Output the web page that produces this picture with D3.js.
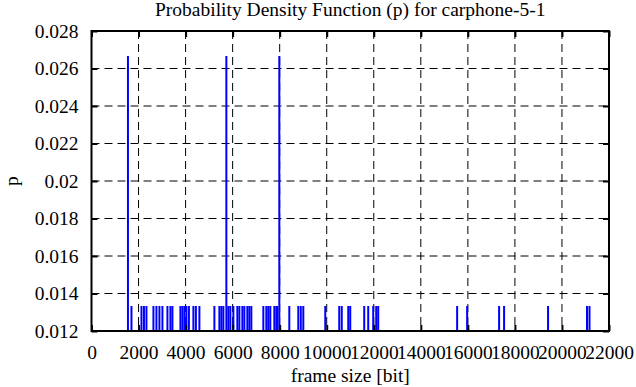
<!DOCTYPE html>
<html>
<head>
<meta charset="utf-8">
<script src="https://cdn.jsdelivr.net/npm/d3@7"></script>
<style>
  body { margin: 0; background: #fff; }
  text { font-family: "Liberation Serif", "Times New Roman", serif; }
</style>
</head>
<body>
<div class="chart"></div>
<script>
// frame sizes [bit] that occur once (p = 1/75) and twice (p = 2/75)
const onceSizes = [
  1699, 2124, 2230, 2336, 2633, 2760, 2888, 3015, 3228, 3355, 3440,
  3780, 3865, 3950, 4035, 4141, 4332, 4438, 4587, 5224, 5436, 5521,
  5606, 5818, 5903, 6031, 6200, 6286, 6413, 6498, 6625, 6710, 6795,
  7305, 7432, 7517, 7602, 7772, 7857, 7899, 8409, 8791, 8897, 9004,
  9938, 10532, 10639, 10915, 11000, 11594, 11764, 11976, 12104, 12189,
  15544, 15969, 17328, 17540, 19409, 21065, 21171
];
const twiceSizes = [1550, 5733, 7984];
const pOnce = 1 / 75;
const pTwice = 2 / 75;

const xTicks = [0, 2000, 4000, 6000, 8000, 10000, 12000, 14000, 16000, 18000, 20000, 22000];
const yTicks = [0.012, 0.014, 0.016, 0.018, 0.02, 0.022, 0.024, 0.026, 0.028];

const data = onceSizes.map((s) => ({ size: s, p: pOnce }))
  .concat(twiceSizes.map((s) => ({ size: s, p: pTwice })));

const W = 636, H = 387;
const margin = { top: 31, right: 27, bottom: 56, left: 91.5 };
const width = W - margin.left - margin.right;
const height = H - margin.top - margin.bottom;
const fs = 19.5;

const svg = d3.select(".chart").append("svg")
  .attr("width", W)
  .attr("height", H);

const g = svg.append("g")
  .attr("transform", `translate(${margin.left},${margin.top})`);

const x = d3.scaleLinear().domain([0, 22000]).range([0, width]);
const y = d3.scaleLinear().domain([0.012, 0.028]).range([height, 0]);

// grid
g.append("g").selectAll("line")
  .data(xTicks.slice(1, -1))
  .join("line")
  .attr("x1", (d) => x(d)).attr("x2", (d) => x(d))
  .attr("y1", 0).attr("y2", height)
  .attr("stroke", "black").attr("stroke-width", 1)
  .attr("stroke-dasharray", "8,5");

g.append("g").selectAll("line")
  .data(yTicks.slice(1, -1))
  .join("line")
  .attr("x1", 0).attr("x2", width)
  .attr("y1", (d) => y(d)).attr("y2", (d) => y(d))
  .attr("stroke", "black").attr("stroke-width", 1)
  .attr("stroke-dasharray", "8,5");

// impulses
g.append("g").selectAll("line")
  .data(data)
  .join("line")
  .attr("x1", (d) => x(d.size)).attr("x2", (d) => x(d.size))
  .attr("y1", y(0.012)).attr("y2", (d) => y(d.p))
  .attr("stroke", "#0000ff").attr("stroke-width", 2);

// axes with inward ticks, mirrored
const tick = 6;
const xAxisB = d3.axisBottom(x).tickValues(xTicks).tickSize(-tick).tickPadding(14).tickFormat(d3.format("d"));
const xAxisT = d3.axisTop(x).tickValues(xTicks).tickSize(-tick).tickFormat("");
const yAxisL = d3.axisLeft(y).tickValues(yTicks).tickSize(-tick).tickPadding(13).tickFormat((d) => d3.format("")(+d.toFixed(3)));
const yAxisR = d3.axisRight(y).tickValues(yTicks).tickSize(-tick).tickFormat("");

function style(sel) {
  sel.selectAll(".domain").remove();
  sel.selectAll(".tick line").attr("stroke", "black").attr("stroke-width", 2);
  sel.selectAll("text").attr("fill", "black").attr("font-size", fs)
    .attr("font-family", "Liberation Serif, serif");
}

g.append("g").attr("transform", `translate(0,${height})`).call(xAxisB).call(style);
g.append("g").call(xAxisT).call(style);
g.append("g").call(yAxisL).call(style);
g.append("g").attr("transform", `translate(${width},0)`).call(yAxisR).call(style);

// frame
g.append("rect")
  .attr("width", width).attr("height", height)
  .attr("fill", "none").attr("stroke", "black").attr("stroke-width", 2);

// titles
svg.append("text")
  .attr("x", margin.left + width / 2).attr("y", 16)
  .attr("text-anchor", "middle").attr("font-size", fs)
  .text("Probability Density Function (p) for carphone-5-1");

svg.append("text")
  .attr("x", margin.left + width / 2).attr("y", 382)
  .attr("text-anchor", "middle").attr("font-size", fs)
  .text("frame size [bit]");

svg.append("text")
  .attr("transform", `translate(18,${margin.top + height / 2}) rotate(-90)`)
  .attr("text-anchor", "middle").attr("font-size", fs)
  .text("p");
</script>
</body>
</html>
